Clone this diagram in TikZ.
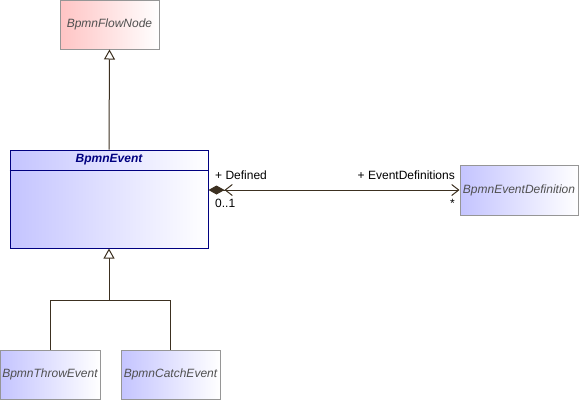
\documentclass[tikz,border=0pt]{standalone}
\usepackage{fontspec}
\setmainfont{Liberation Sans}
\usetikzlibrary{arrows.meta, positioning}
\definecolor{umlblue}{RGB}{196,196,255}
\definecolor{umlpink}{RGB}{255,196,196}
\definecolor{umlnavy}{RGB}{0,0,128}
\definecolor{umlgrey}{RGB}{150,150,150}
\definecolor{umltext}{RGB}{80,80,80}
\definecolor{umlline}{RGB}{60,48,32}
\tikzset{
    classbox/.style={rectangle,draw=umlgrey,line width=1pt,left color=umlblue,right color=white,inner sep=0pt,minimum height=49pt,font=\fontsize{12}{14}\selectfont\itshape,text=umltext},
    gen/.style={draw=umlline,line width=1pt,-{Triangle[open,length=10pt,width=11pt,fill=white]}},
    assoc/.style={draw=umlline,line width=1pt,{Diamond[length=16pt,width=9pt,fill=umlline] Straight Barb[length=7pt,width=11pt]}-{Straight Barb[length=7pt,width=11pt]}},
    rolelabel/.style={font=\fontsize{12}{14}\selectfont,inner sep=0pt}
}

\begin{document}
\begin{tikzpicture}[x=1pt,y=-1pt]
    \useasboundingbox (0,0) rectangle (579,400);

    % Klassen
    \node[classbox,left color=umlpink,minimum width=99pt] (flownode) at (109.5,24.5) {BpmnFlowNode};
    \node[classbox,draw=umlnavy,minimum width=198pt,minimum height=98pt] (event) at (109,199) {};
    \node[font=\fontsize{12}{14}\selectfont\bfseries\itshape,text=umlnavy] (eventname) at (109,160) {BpmnEvent};
    \draw[umlnavy,line width=1pt] (event.west |- 0,170) -- (event.east |- 0,170);
    \node[classbox,minimum width=118pt,minimum height=50pt] (eventdef) at (519,190) {BpmnEventDefinition};
    \node[classbox,minimum width=100pt] (throw) at (50,374.5) {BpmnThrowEvent};
    \node[classbox,minimum width=99pt] (catch) at (170.5,374.5) {BpmnCatchEvent};

    % Vererbung
    \draw[gen] (event.north) -- (flownode.south);
    \coordinate (joint) at (109,300);
    \draw[gen] (throw.north) |- (joint) -- (event.south);
    \draw[umlline,line width=1pt] (catch.north) |- (joint);

    % Assoziation
    \draw[assoc] (event.east |- eventdef.west) -- (eventdef.west);
    \node[rolelabel,anchor=west] at (215,175) {+ Defined};
    \node[rolelabel,anchor=west] at (215,203) {0..1};
    \node[rolelabel,anchor=east] at (455,175) {+ EventDefinitions};
    \node[rolelabel,anchor=east] at (455,203) {*};
\end{tikzpicture}
\end{document}
